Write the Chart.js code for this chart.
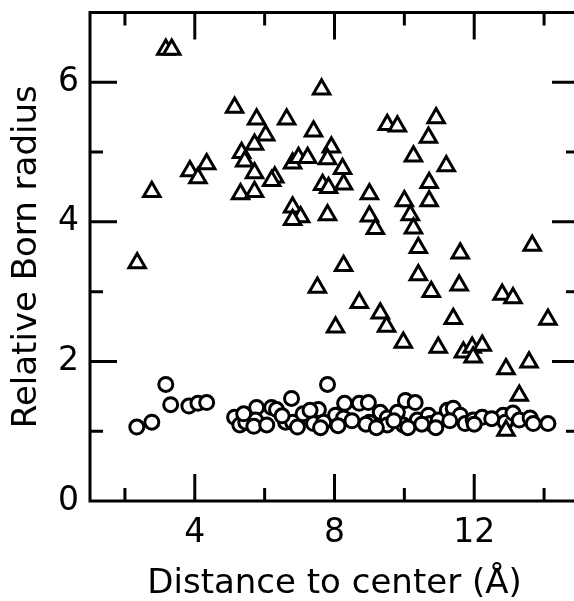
<!DOCTYPE html>
<html>
<head>
<meta charset="utf-8">
<script src="https://cdn.jsdelivr.net/npm/chart.js@4/dist/chart.umd.min.js"></script>
<style>
  html, body { margin: 0; padding: 0; background: #fff; overflow: hidden; }
  #wrap { width: 600px; height: 601px; }
</style>
</head>
<body>
<div id="wrap"><canvas id="bornChart" width="600" height="601"></canvas></div>
<script>
// triangles: upper set
const triDist = [2.35, 2.77, 3.17, 3.34, 3.86, 4.09, 4.34, 5.14, 5.77, 6.63, 7.63, 6.03, 5.71, 5.34, 5.43,
  5.71, 6.29, 6.20, 5.31, 5.71, 6.80, 6.97, 7.23, 7.40, 7.91, 7.80, 7.66, 7.83, 6.80, 7.03, 6.80, 7.80,
  9.51, 9.80, 10.26, 8.23, 8.26, 9.00, 10.00, 9.00, 9.17, 10.17, 10.26, 10.91, 10.69, 11.20, 10.71, 10.71,
  10.40, 11.60, 13.66, 8.26, 10.40, 10.77, 11.57, 12.80, 13.11, 8.71, 9.31, 9.49, 8.03, 11.40, 14.11,
  9.97, 10.97, 11.69, 11.94, 12.23, 11.97, 12.91, 13.57, 13.29, 12.91, 7.51];
const triRadius = [3.41, 4.43, 6.47, 6.47, 4.73, 4.63, 4.83, 5.64, 5.47, 5.47, 5.90, 5.24, 5.11, 4.99, 4.87,
  4.70, 4.64, 4.59, 4.40, 4.43, 4.84, 4.92, 4.92, 5.30, 5.07, 4.90, 4.53, 4.49, 4.21, 4.07, 4.03, 4.10,
  5.39, 5.37, 4.94, 4.76, 4.54, 4.40, 4.30, 4.08, 3.90, 4.10, 3.91, 5.49, 5.21, 4.80, 4.56, 4.30,
  3.63, 3.55, 3.66, 3.37, 3.24, 3.00, 3.09, 2.96, 2.91, 2.84, 2.69, 2.50, 2.49, 2.61, 2.60,
  2.27, 2.20, 2.13, 2.20, 2.23, 2.06, 1.89, 1.99, 1.51, 1.01, 3.06];

// circles: lower set
const circDist = [2.34, 2.77, 3.17, 3.31, 3.83, 4.09, 4.34, 5.14, 5.29, 5.46, 5.77, 5.74, 5.69, 6.06, 6.20,
  6.34, 6.77, 6.60, 6.80, 6.94, 7.23, 7.40, 7.54, 7.80, 7.69, 8.03, 8.26, 8.29, 8.71, 8.97, 9.00, 9.31,
  9.51, 9.51, 9.80, 10.03, 9.97, 10.31, 10.37, 10.69, 10.74, 10.97, 11.23, 11.40, 11.60, 11.74, 11.97,
  12.23, 12.83, 12.89, 13.11, 13.29, 13.60, 13.69, 14.11,
  5.40, 6.50, 7.10, 7.60, 8.10, 8.50, 8.90, 9.20, 9.70, 10.10, 10.50, 10.90, 11.30, 12.00, 12.50, 7.30];
const circRadius = [1.06, 1.13, 1.67, 1.38, 1.36, 1.40, 1.41, 1.20, 1.09, 1.13, 1.34, 1.16, 1.07, 1.09, 1.34,
  1.31, 1.47, 1.13, 1.13, 1.06, 1.20, 1.11, 1.31, 1.67, 1.13, 1.23, 1.19, 1.40, 1.40, 1.41, 1.13, 1.27,
  1.19, 1.09, 1.27, 1.44, 1.09, 1.41, 1.16, 1.23, 1.11, 1.16, 1.30, 1.33, 1.23, 1.11, 1.16,
  1.20, 1.23, 1.13, 1.26, 1.16, 1.19, 1.11, 1.11,
  1.25, 1.22, 1.25, 1.05, 1.08, 1.15, 1.10, 1.05, 1.15, 1.05, 1.10, 1.05, 1.15, 1.10, 1.18, 1.30];

// axis ticks (labelled and unlabelled)
const xMajor = [4, 8, 12];
const xMinor = [2, 6, 10, 14];
const yMajor = [0, 2, 4, 6];
const yMinor = [1, 3, 5];

const toPoints = (xs, ys) => xs.map((x, i) => ({ x: x, y: ys[i] }));

const FONT = "'DejaVu Sans', sans-serif";

// inward tick marks and the box around the plot
const frameTicks = {
  id: 'frameTicks',
  afterDraw(chart) {
    const { ctx, chartArea: a, scales: { x, y } } = chart;
    const big = 27, small = 13;
    ctx.save();
    ctx.strokeStyle = '#000';
    ctx.lineWidth = 3;
    ctx.lineCap = 'butt';
    ctx.beginPath();
    ctx.rect(a.left, a.top, a.right - a.left, a.bottom - a.top);
    xMajor.concat(xMinor).forEach(v => {
      const px = x.getPixelForValue(v);
      const len = xMajor.includes(v) ? big : small;
      ctx.moveTo(px, a.bottom); ctx.lineTo(px, a.bottom - len);
      ctx.moveTo(px, a.top); ctx.lineTo(px, a.top + len);
    });
    yMajor.concat(yMinor).forEach(v => {
      const py = y.getPixelForValue(v);
      const len = yMajor.includes(v) ? big : small;
      ctx.moveTo(a.left, py); ctx.lineTo(a.left + len, py);
      ctx.moveTo(a.right, py); ctx.lineTo(a.right - len, py);
    });
    ctx.stroke();
    ctx.restore();
  }
};

new Chart(document.getElementById('bornChart'), {
  type: 'scatter',
  data: {
    datasets: [{
      label: 'triangles',
      data: toPoints(triDist, triRadius),
      pointStyle: 'triangle',
      pointRadius: 9.5,
      borderWidth: 3,
      borderColor: '#000',
      backgroundColor: '#fff'
    }, {
      label: 'circles',
      data: toPoints(circDist, circRadius),
      pointStyle: 'circle',
      pointRadius: 7,
      borderWidth: 3,
      borderColor: '#000',
      backgroundColor: '#fff'
    }]
  },
  options: {
    responsive: false,
    animation: false,
    layout: { padding: { top: 11, right: 21, left: 0, bottom: 0 } },
    plugins: {
      legend: { display: false },
      tooltip: { enabled: false }
    },
    scales: {
      x: {
        type: 'linear',
        min: 1,
        max: 15,
        border: { display: false },
        grid: { display: false, drawTicks: false },
        afterBuildTicks: s => { s.ticks = xMinor.concat(xMajor).sort((a, b) => a - b).map(v => ({ value: v })); },
        afterFit: s => { s.height = 100; s.paddingLeft = 0; s.paddingRight = 0; },
        ticks: {
          padding: 13,
          color: '#000',
          maxRotation: 0,
          autoSkip: false,
          font: { family: FONT, size: 33 },
          callback: v => xMajor.includes(v) ? String(v) : ''
        },
        title: {
          display: true,
          text: 'Distance to center (Å)',
          color: '#000',
          padding: { top: 0, bottom: 0 },
          font: { family: FONT, size: 34, lineHeight: 1 }
        }
      },
      y: {
        type: 'linear',
        min: 0,
        max: 7,
        border: { display: false },
        grid: { display: false, drawTicks: false },
        afterBuildTicks: s => { s.ticks = yMajor.concat(yMinor).sort((a, b) => a - b).map(v => ({ value: v })); },
        afterFit: s => { s.width = 90; s.paddingTop = 0; s.paddingBottom = 0; },
        ticks: {
          padding: 11,
          color: '#000',
          autoSkip: false,
          font: { family: FONT, size: 33 },
          callback: v => yMajor.includes(v) ? String(v) : ''
        },
        title: {
          display: true,
          text: 'Relative Born radius',
          color: '#000',
          padding: { top: 10, bottom: 0 },
          font: { family: FONT, size: 34, lineHeight: 1 }
        }
      }
    }
  },
  plugins: [frameTicks]
});
</script>
</body>
</html>
